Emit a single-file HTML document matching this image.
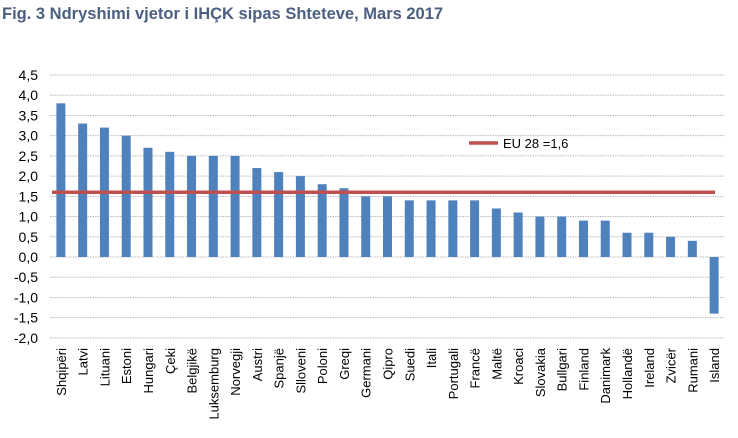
<!DOCTYPE html>
<html><head><meta charset="utf-8"><style>
body{margin:0;background:#fff;font-family:"Liberation Sans",sans-serif;}
</style></head><body>
<svg id="chart" width="738" height="433" xmlns="http://www.w3.org/2000/svg" font-family="Liberation Sans, sans-serif">
<text x="2" y="19" font-size="16.5" font-weight="bold" fill="#4b5f80">Fig. 3 Ndryshimi vjetor i IHÇK sipas Shteteve, Mars 2017</text>
<g id="grid"></g><g id="yt"></g><g id="bars"></g><g id="xl"></g>
<line id="eu" stroke="#c0504d" stroke-width="3.5"/>
<line x1="469" y1="143" x2="498" y2="143" stroke="#c0504d" stroke-width="3.5"/>
<text x="503" y="148" font-size="13">EU 28 =1,6</text>
</svg>
<script>
const categories=["Shqipëri","Latvi","Lituani","Estoni","Hungari","Çeki","Belgjikë","Luksemburg","Norvegji","Austri","Spanjë","Slloveni","Poloni","Greqi","Germani","Qipro","Suedi","Itali","Portugali","Francë","Maltë","Kroaci","Slovakia","Bullgari","Finland","Danimark","Hollandë","Ireland","Zvicër","Rumani","Island"];
const values=[3.8,3.3,3.2,3.0,2.7,2.6,2.5,2.5,2.5,2.2,2.1,2.0,1.8,1.7,1.5,1.5,1.4,1.4,1.4,1.4,1.2,1.1,1.0,1.0,0.9,0.9,0.6,0.6,0.5,0.4,-1.4];
const euValue=1.6;
const ticks=[4.5,4.0,3.5,3.0,2.5,2.0,1.5,1.0,0.5,0.0,-0.5,-1.0,-1.5,-2.0];
const NS="http://www.w3.org/2000/svg";
const y=v=>257-v*(257-75)/4.5;
const x0=50,x1=725,step=(x1-x0)/categories.length;
const xc=i=>x0+step*(i+0.5);
function mk(t,a,p){const e=document.createElementNS(NS,t);for(const k in a)e.setAttribute(k,a[k]);document.getElementById(p).appendChild(e);return e;}
ticks.forEach(t=>{
 const l=mk("line",{x1:x0,x2:x1,y1:y(t),y2:y(t),stroke:"#bbb","stroke-dasharray":"1.5,1"},"grid");
 
 
 const tx=mk("text",{x:38,y:y(t)+5,"font-size":"14","text-anchor":"end"},"yt");
 tx.textContent=t.toFixed(1).replace(".",",");
 
 
});
values.forEach((v,i)=>{
 const r=mk("rect",{x:xc(i)-4.5,width:9,y:Math.min(y(v),y(0)),height:Math.abs(y(v)-y(0)),fill:"#4f81bd"},"bars");
 
 
});
categories.forEach((c,i)=>{
 const t=mk("text",{x:0,y:0,"font-size":"13","text-anchor":"end",transform:`translate(${xc(i)+5},348) rotate(-90)`},"xl");
 t.textContent=c;
 
 
});
const eu=document.getElementById("eu");
eu.setAttribute("x1",x0+2);eu.setAttribute("x2",x1-10);eu.setAttribute("y1",y(euValue));eu.setAttribute("y2",y(euValue));
</script>
</body></html>
